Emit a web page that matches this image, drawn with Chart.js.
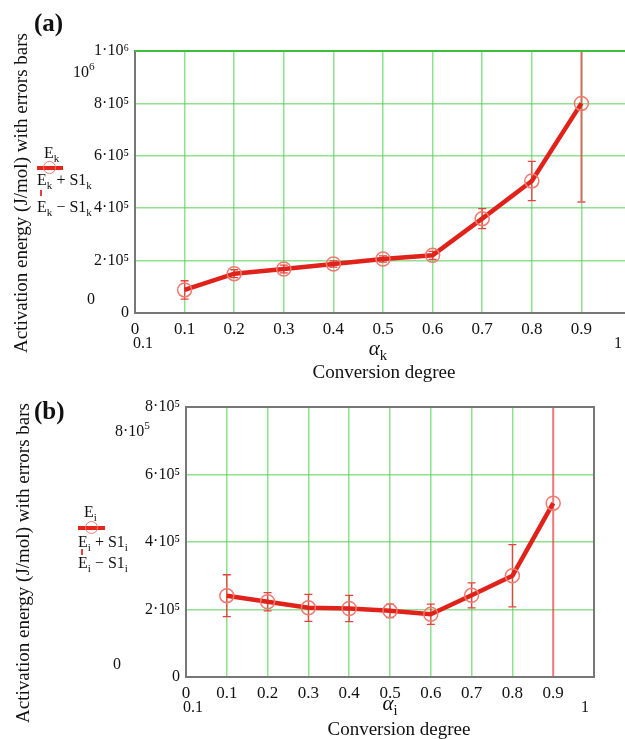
<!DOCTYPE html>
<html>
<head>
<meta charset="utf-8">
<script src="https://cdn.jsdelivr.net/npm/chart.js@4.4.1/dist/chart.umd.min.js"></script>
<style>
  html, body { margin: 0; padding: 0; background: #fff; overflow: hidden; }
  body { width: 625px; height: 739px; position: relative; font-family: "Liberation Serif", serif; color: #111; }
  canvas { position: absolute; left: 0; }
  .txt { position: absolute; white-space: nowrap; line-height: 1; font-size: 16px; }
  .txt sub { font-size: 70%; vertical-align: -0.35em; line-height: 0; }
  .txt sup { font-size: 70%; vertical-align: 0.6em; line-height: 0; }
  .panel { font-size: 25px; font-weight: bold; }
  .ytitle { font-size: 19px; transform: translate(-50%, -50%) rotate(-90deg); }
  .xtitle { font-size: 19px; transform: translateX(-50%); }
  .alpha { font-size: 21px; font-style: italic; transform: translateX(-50%); }
  .lgline { position: absolute; height: 4px; background: #e3261c; }
  .lgdot { position: absolute; width: 11px; height: 11px; border: 1.5px solid #f07a70; border-radius: 50%; }
  .lgerr { position: absolute; width: 1.5px; height: 6px; background: #e84040; }
</style>
</head>
<body>
<canvas id="chartA" width="660" height="380" style="top:0;width:660px;height:380px"></canvas>
<canvas id="chartB" width="625" height="359" style="top:380px;width:625px;height:359px"></canvas>

<!-- panel (a) texts -->
<div class="txt panel" style="left:34px;top:10px">(a)</div>
<div class="txt ytitle" style="left:20px;top:193px">Activation energy (J/mol) with errors bars</div>
<div class="txt" style="left:73px;top:64px">10<sup>6</sup></div>
<div class="txt" style="left:87px;top:291px">0</div>
<div class="txt" style="left:44px;top:145px">E<sub>k</sub></div>
<div class="lgline" style="left:37px;top:166px;width:26px"></div>
<div class="lgdot" style="left:43px;top:161px"></div>
<div class="txt" style="left:37px;top:172px">E<sub>k</sub> + S1<sub>k</sub></div>
<div class="lgerr" style="left:40px;top:190px"></div>
<div class="txt" style="left:37px;top:199px">E<sub>k</sub> − S1<sub>k</sub></div>
<div class="txt" style="left:133px;top:335px">0.1</div>
<div class="txt" style="left:614px;top:335px">1</div>
<div class="txt alpha" style="left:378px;top:338px">α<sub style="font-style:normal">k</sub></div>
<div class="txt xtitle" style="left:384px;top:362px">Conversion degree</div>

<!-- panel (b) texts -->
<div class="txt panel" style="left:34px;top:398px">(b)</div>
<div class="txt ytitle" style="left:22px;top:563px">Activation energy (J/mol) with errors bars</div>
<div class="txt" style="left:115px;top:423px">8·10<sup>5</sup></div>
<div class="txt" style="left:113px;top:656px">0</div>
<div class="txt" style="left:84px;top:504px">E<sub>i</sub></div>
<div class="lgline" style="left:78px;top:526px;width:27px"></div>
<div class="lgdot" style="left:85px;top:521px"></div>
<div class="txt" style="left:78px;top:534px">E<sub>i</sub> + S1<sub>i</sub></div>
<div class="lgerr" style="left:81px;top:549px"></div>
<div class="txt" style="left:78px;top:555px">E<sub>i</sub> − S1<sub>i</sub></div>
<div class="txt" style="left:183px;top:699px">0.1</div>
<div class="txt" style="left:581px;top:699px">1</div>
<div class="txt alpha" style="left:390px;top:693px">α<sub style="font-style:normal">i</sub></div>
<div class="txt xtitle" style="left:399px;top:719px">Conversion degree</div>

<script>
// conversion degrees
const alphaK = [0.1, 0.2, 0.3, 0.4, 0.5, 0.6, 0.7, 0.8, 0.9];
const alphaI = [0.1, 0.2, 0.3, 0.4, 0.5, 0.6, 0.7, 0.8, 0.9];

// activation energies (J/mol) and their S1 errors
const Ek  = [88000, 150000, 168000, 187000, 206000, 220000, 360000, 504000, 800000];
const S1k = [35000, 15000, 15000, 12000, 12000, 15000, 38000, 75000, 376000];
const Ei  = [241000, 223000, 205000, 203000, 196000, 186000, 242000, 300000, 515000];
const S1i = [62000, 27000, 40000, 39000, 20000, 30000, 37000, 92000, 600000];

// tick labels, Mathcad style
const yTickA = { 0: '0', 200000: '2·10⁵', 400000: '4·10⁵', 600000: '6·10⁵', 800000: '8·10⁵', 1000000: '1·10⁶' };
const yTickB = { 0: '0', 200000: '2·10⁵', 400000: '4·10⁵', 600000: '6·10⁵', 800000: '8·10⁵' };

const GRID = 'rgba(70, 205, 70, 0.6)';
const RED = '#e0221a';
const xFont = { family: 'Liberation Serif', size: 17 };
const yFont = { family: 'Liberation Serif', size: 16 };

// error bars drawn on the chart's own scales
const errorBars = {
  id: 'errorBars',
  beforeDatasetsDraw(chart) {
    const { ctx, chartArea, scales } = chart;
    ctx.save();
    ctx.beginPath();
    ctx.rect(chartArea.left, chartArea.top, chartArea.right - chartArea.left, chartArea.bottom - chartArea.top);
    ctx.clip();
    chart.data.datasets.forEach(ds => {
      if (!ds.errors) return;
      ds.data.forEach((p, i) => {
        const e = ds.errors[i];
        const x = scales.x.getPixelForValue(p.x);
        const y1 = scales.y.getPixelForValue(p.y + e);
        const y2 = scales.y.getPixelForValue(p.y - e);
        const big = i === ds.data.length - 1;
        ctx.strokeStyle = big ? 'rgba(232, 64, 64, 0.7)' : '#e84040';
        ctx.lineWidth = big ? 2 : 1.3;
        ctx.beginPath();
        ctx.moveTo(x, y1); ctx.lineTo(x, y2);
        ctx.moveTo(x - 4, y1); ctx.lineTo(x + 4, y1);
        ctx.moveTo(x - 4, y2); ctx.lineTo(x + 4, y2);
        ctx.stroke();
      });
    });
    ctx.restore();
  }
};

// frame around the plot
const frame = {
  id: 'frame',
  afterDraw(chart, args, opts) {
    const { ctx, chartArea } = chart;
    ctx.save();
    ctx.strokeStyle = opts.color;
    ctx.lineWidth = 2;
    ctx.strokeRect(chartArea.left, chartArea.top, chartArea.right - chartArea.left, chartArea.bottom - chartArea.top);
    if (opts.topGreen) {
      ctx.strokeStyle = '#3cbf3c';
      ctx.beginPath();
      ctx.moveTo(chartArea.left, chartArea.top);
      ctx.lineTo(chartArea.right, chartArea.top);
      ctx.stroke();
    }
    ctx.restore();
  }
};

function makeChart(id, xs, ys, errs, ymax, yTicks, pad, yWidth, xHeight, topGreen) {
  const pts = xs.map((x, i) => ({ x: x, y: ys[i] }));
  return new Chart(document.getElementById(id), {
    type: 'line',
    data: {
      datasets: [{
        data: pts,
        errors: errs,
        borderColor: RED,
        borderWidth: 4.5,
        tension: 0,
        pointStyle: 'circle',
        pointRadius: 7,
        pointHoverRadius: 7,
        pointBorderColor: '#f07a70',
        pointBackgroundColor: 'rgba(0,0,0,0)',
        pointBorderWidth: 1.5
      }]
    },
    options: {
      responsive: false,
      animation: false,
      events: [],
      layout: { padding: pad },
      plugins: { legend: { display: false }, tooltip: { enabled: false }, frame: { color: '#777', topGreen: topGreen } },
      scales: {
        x: {
          type: 'linear', min: 0, max: 1,
          afterFit: s => { s.height = xHeight; },
          ticks: {
            stepSize: 0.1, font: xFont, color: '#111', padding: 6, maxRotation: 0, autoSkip: false,
            callback: v => (v > 0.99 ? '' : (v === 0 ? '0' : v.toFixed(1)))
          },
          grid: {
            drawTicks: false, lineWidth: 1.5,
            color: c => (c.tick.value < 0.01 || c.tick.value > 0.99 ? 'rgba(0,0,0,0)' :
                         (!topGreen && Math.abs(c.tick.value - 0.9) < 0.01 ? 'rgba(0,0,0,0)' : GRID))
          },
          border: { display: false }
        },
        y: {
          min: 0, max: ymax,
          afterFit: s => { s.width = yWidth; },
          ticks: {
            stepSize: 200000, font: yFont, color: '#111', padding: 6,
            callback: v => yTicks[v] || ''
          },
          grid: {
            drawTicks: false, lineWidth: 1.5,
            color: c => (c.tick.value === 0 ? 'rgba(0,0,0,0)' : GRID)
          },
          border: { display: false }
        }
      }
    },
    plugins: [errorBars, frame]
  });
}

makeChart('chartA', alphaK, Ek, S1k, 1000000, yTickA, { top: 51, right: 29, left: 0, bottom: 0 }, 135, 67, true);
makeChart('chartB', alphaI, Ei, S1i, 800000, yTickB, { top: 27, right: 31, left: 0, bottom: 0 }, 186, 62, false);
</script>
</body>
</html>
